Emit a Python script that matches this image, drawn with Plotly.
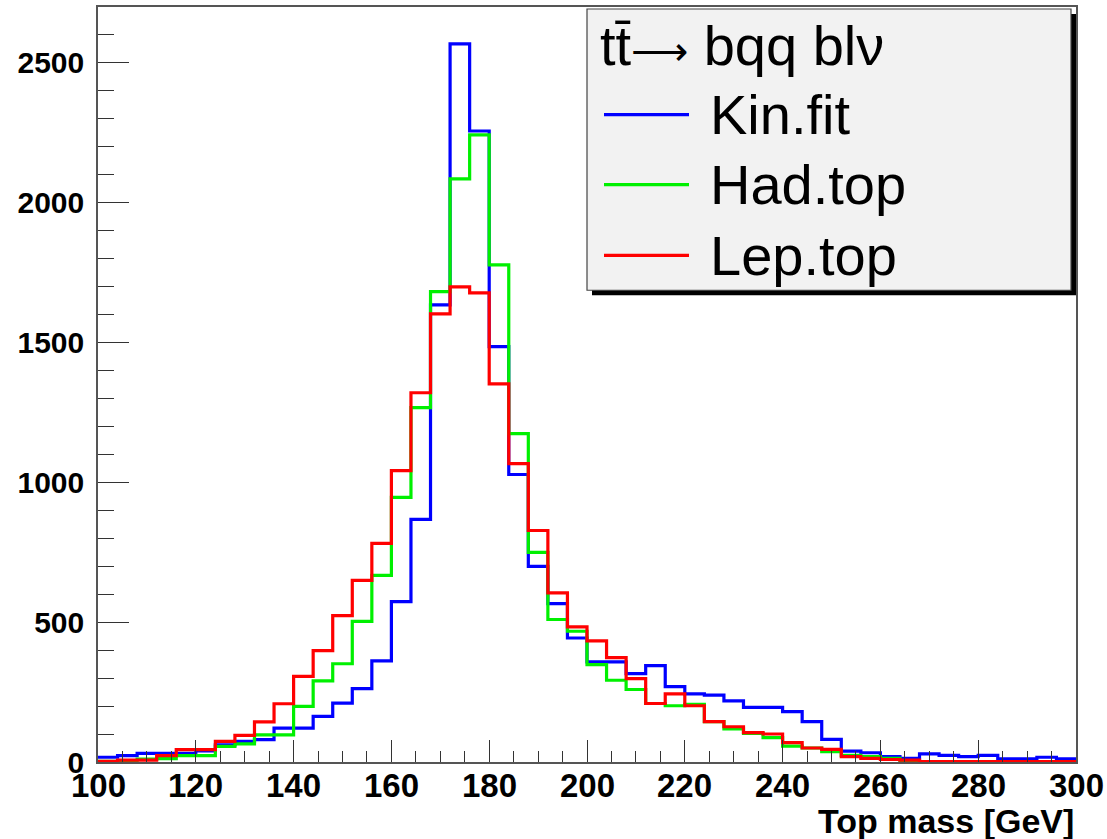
import plotly.graph_objects as go

# ---- data -------------------------------------------------------------
bin_edges = [100 + 4 * i for i in range(51)]

kin_fit = [17, 23, 31, 31, 31, 40, 61, 74, 80, 121,
           121, 163, 210, 262, 361, 573, 867, 1633, 2565, 2254,
           1484, 1027, 699, 566, 443, 358, 358, 316, 344, 269,
           243, 239, 218, 195, 195, 180, 144, 81, 39, 33,
           19, 13, 29, 24, 19, 24, 11, 11, 17, 11]

had_top = [2, 3, 10, 12, 23, 23, 56, 65, 97, 97,
           199, 290, 351, 502, 667, 945, 1266, 1680, 2083, 2240,
           1776, 1173, 749, 509, 467, 348, 292, 259, 209, 201,
           206, 144, 118, 102, 87, 57, 50, 37, 24, 19,
           13, 2, 1, 1, 0, 0, 0, 0, 0, 0]

lep_top = [2, 7, 7, 23, 44, 44, 74, 95, 143, 208,
           306, 398, 523, 649, 781, 1041, 1319, 1601, 1697, 1676,
           1351, 1066, 827, 604, 483, 433, 373, 298, 209, 243,
           201, 144, 126, 105, 100, 69, 50, 45, 19, 13,
           9, 7, 1, 1, 1, 1, 1, 1, 1, 1]

series_names = ["Kin.fit", "Had.top", "Lep.top"]
series_colors = ["#0000ff", "#00f000", "#ff0000"]
header_text = ("tt\u0304<span style='font-size:40px'>\u27f6</span>"
               " bqq bl\u03bd")
x_title = "Top mass [GeV]"
x_ticks = [100, 120, 140, 160, 180, 200, 220, 240, 260, 280, 300]
y_ticks = [0, 500, 1000, 1500, 2000, 2500]

# ---- figure -----------------------------------------------------------
W, H = 1107, 839
L, R, T, B = 98, 1076, 5, 762  # plot area in pixels

fig = go.Figure()
for name, vals, col in zip(series_names, [kin_fit, had_top, lep_top], series_colors):
    fig.add_trace(go.Scatter(
        x=bin_edges, y=vals + [vals[-1]], mode="lines", line_shape="hv",
        line=dict(color=col, width=3.2), name=name, showlegend=False,
        hoverinfo="skip"))

def px(xpix):
    return (xpix - L) / (R - L)

def py(ypix):
    return (B - ypix) / (B - T)

basefont = dict(family="Liberation Sans, Arial, sans-serif", color="black")

fig.update_layout(
    width=W, height=H,
    margin=dict(l=L, r=W - R, t=T, b=H - B, pad=0),
    paper_bgcolor="white", plot_bgcolor="white",
    xaxis=dict(range=[100, 300], tickvals=x_ticks, ticks="inside",
               ticklen=22, tickwidth=1.2, tickcolor="#333",
               minor=dict(dtick=5, ticks="inside", ticklen=11, tickwidth=1, tickcolor="#333"),
               showgrid=False, zeroline=False, showline=True, mirror=True,
               linecolor="#555", linewidth=1.5, showticklabels=False),
    yaxis=dict(range=[0, 2697], tickvals=y_ticks, ticks="inside",
               ticklen=31, tickwidth=1.2, tickcolor="#333",
               minor=dict(dtick=100, ticks="inside", ticklen=16, tickwidth=1, tickcolor="#333"),
               showgrid=False, zeroline=False, showline=True, mirror=True,
               linecolor="#555", linewidth=1.5,
               tickfont=dict(size=30, weight="bold", **basefont),
               ticklabelstandoff=6),
)

# x tick labels (placed as text at the axis' tick values)
for xv in x_ticks:
    fig.add_annotation(text=str(xv), xref="x", yref="paper", x=xv, y=py(786),
                       xanchor="center", yanchor="middle", showarrow=False,
                       font=dict(size=33, weight="bold", **basefont))

# x axis title
fig.add_annotation(text=x_title, xref="paper", yref="paper", x=1, y=py(821),
                   xanchor="right", yanchor="middle", showarrow=False,
                   font=dict(size=34, weight="bold", **basefont))

# ---- custom legend box ----------------------------------------------
bx0, by0, bx1, by1 = 587, 7, 1071, 289
sh = 5
fig.add_shape(type="rect", xref="paper", yref="paper",
              x0=px(bx0 + sh), x1=px(bx1 + sh), y0=py(by0 + sh), y1=py(by1 + sh),
              fillcolor="black", line=dict(width=0), layer="above")
fig.add_shape(type="rect", xref="paper", yref="paper",
              x0=px(bx0), x1=px(bx1), y0=py(by0), y1=py(by1),
              fillcolor="#f2f2f2", line=dict(color="#444", width=1.2), layer="above")

legend_font = dict(family="Liberation Sans, Arial, sans-serif", color="black", size=56)
fig.add_annotation(text=header_text, xref="paper", yref="paper",
                   x=px(598), y=py(44), xanchor="left", yanchor="middle",
                   showarrow=False, font=legend_font)
item_y = [113, 183, 254]
for name, col, yy in zip(series_names, series_colors, item_y):
    fig.add_shape(type="line", xref="paper", yref="paper",
                  x0=px(604), x1=px(689), y0=py(yy), y1=py(yy),
                  line=dict(color=col, width=3.2), layer="above")
    fig.add_annotation(text=name, xref="paper", yref="paper",
                       x=px(708), y=py(yy), xanchor="left", yanchor="middle",
                       showarrow=False, font=legend_font)

fig.write_html("out.html")
